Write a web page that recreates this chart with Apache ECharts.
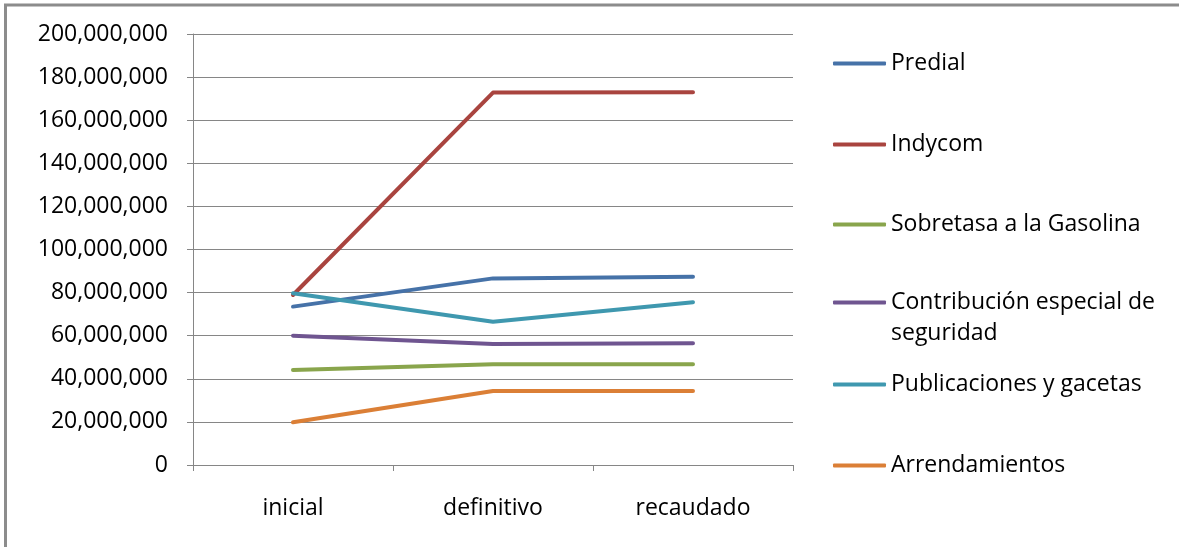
<!DOCTYPE html>
<html>
<head>
<meta charset="utf-8">
<script src="https://cdn.jsdelivr.net/npm/echarts@6/dist/echarts.min.js"></script>
<style>
html,body{margin:0;padding:0;background:#fff;}
#c{width:1179px;height:547px;}
</style>
</head>
<body>
<div id="c"></div>
<script>
const categories = ['inicial', 'definitivo', 'recaudado'];
const predial = [73500000, 86600000, 87400000];
const indycom = [78900000, 172800000, 173000000];
const sobretasa = [44100000, 46700000, 46700000];
const contribucion = [60000000, 56100000, 56500000];
const publicaciones = [79700000, 66500000, 75500000];
const arrendamientos = [19800000, 34300000, 34300000];
const yTicks = [0, 20000000, 40000000, 60000000, 80000000, 100000000, 120000000, 140000000, 160000000, 180000000, 200000000];

const seriesDefs = [
  {name: 'Predial', data: predial, color: '#4672A8', legendTop: 43},
  {name: 'Indycom', data: indycom, color: '#A9443F', legendTop: 124},
  {name: 'Sobretasa a la Gasolina', data: sobretasa, color: '#89A54C', legendTop: 204},
  {name: 'Contribución especial de seguridad', data: contribucion, color: '#6F5590', legendTop: 251, twoLine: true},
  {name: 'Publicaciones y gacetas', data: publicaciones, color: '#3F98AF', legendTop: 364},
  {name: 'Arrendamientos', data: arrendamientos, color: '#DB7F36', legendTop: 445}
];

const FONT = 'Open Sans';
const chart = echarts.init(document.getElementById('c'));

const legends = seriesDefs.map(s => ({
  data: [s.name],
  orient: 'vertical',
  left: 828,
  top: s.legendTop,
  icon: 'roundRect',
  itemWidth: 53,
  itemHeight: 4,
  selectedMode: false,
  formatter: s.twoLine ? '\nContribución especial de\nseguridad' : '{name}',
  textStyle: {fontFamily: FONT, fontSize: 23, color: '#000', lineHeight: 31}
}));

const option = {
  animation: false,
  backgroundColor: '#fff',
  grid: {left: 193, right: 386, top: 34, bottom: 82, containLabel: false},
  legend: legends,
  xAxis: {
    type: 'category',
    data: categories,
    boundaryGap: true,
    axisLine: {lineStyle: {color: '#868686', width: 1}},
    axisTick: {show: true, length: 6, lineStyle: {color: '#868686'}},
    axisLabel: {fontFamily: FONT, fontSize: 23, color: '#000', margin: 32}
  },
  yAxis: {
    type: 'value',
    min: 0, max: 200000000, interval: 20000000,
    axisLine: {show: true, lineStyle: {color: '#868686', width: 1}},
    axisTick: {show: true, length: 6, lineStyle: {color: '#868686'}},
    splitLine: {lineStyle: {color: '#868686', width: 1}},
    axisLabel: {
      fontFamily: FONT, fontSize: 23, color: '#000', margin: 25,
      formatter: v => yTicks.includes(v) ? v.toLocaleString('en-US') : ''
    }
  },
  series: seriesDefs.map(s => ({
    name: s.name,
    type: 'line',
    data: s.data,
    symbol: 'none',
    color: s.color,
    lineStyle: {width: 4, color: s.color, cap: 'round', join: 'round'}
  })),
  graphic: [
    {type: 'line', shape: {x1: 4, y1: 5, x2: 1179, y2: 5}, style: {stroke: '#8C8C8C', lineWidth: 3}},
    {type: 'line', shape: {x1: 5.5, y1: 4, x2: 5.5, y2: 547}, style: {stroke: '#8C8C8C', lineWidth: 3}}
  ]
};
chart.setOption(option);
</script>
</body>
</html>
